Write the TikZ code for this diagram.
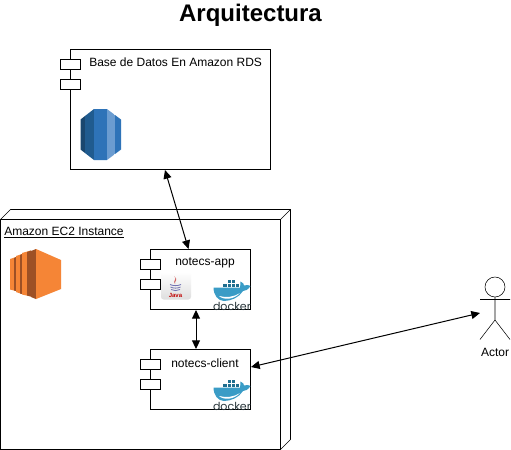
\documentclass[tikz,border=0pt]{standalone}
\usepackage{fontspec}
\setmainfont{Liberation Sans}
\newfontfamily\dockerfont{Poppins}
\usetikzlibrary{arrows.meta}
\definecolor{awsorange}{HTML}{F58536}
\definecolor{awsdark}{HTML}{9D5025}
\definecolor{rdsa}{HTML}{1A476F}
\definecolor{rdsb}{HTML}{205B8F}
\definecolor{rdsc}{HTML}{2E73B8}
\definecolor{rdsd}{HTML}{6B9CD0}
\definecolor{whale}{HTML}{3A9CC6}
\definecolor{whaledark}{HTML}{1F6E8F}
\definecolor{dockertext}{HTML}{2A373C}
\tikzset{
  x=0.75pt,y=-0.75pt,
  line width=0.75pt,
  comp/.style={draw=black,fill=white,minimum width=#1,anchor=north west,inner sep=0pt,outer sep=0pt},
  port/.style={draw=black,fill=white,rectangle,minimum width=15pt,minimum height=7.5pt,inner sep=0pt,outer sep=0pt,anchor=north west},
  lbl/.style={font=\fontsize{9pt}{11pt}\selectfont,inner sep=0pt,text=black},
  dock/.style={font=\dockerfont\fontsize{8.3pt}{9pt}\selectfont,text=dockertext,inner sep=0pt,anchor=base},
  conn/.style={draw=black,line width=0.75pt,{Triangle[length=6.5pt,width=6pt]}-{Triangle[length=6.5pt,width=6pt]}},
}
\newcommand{\dockericon}[2]{%
  \begin{scope}[shift={(#1,#2)}]
    \foreach \cx/\cy in {222.5/283.5,226.7/283.5,230.9/283.5,235.1/283.5,226.7/279.5,230.9/279.5}
      \fill[whaledark,draw=white,line width=0.15pt] (\cx,\cy) rectangle ++(4.1,3.9);
    \fill[whale] (213.5,287.5) -- (240,287.5) .. controls (240.5,285) and (240.5,283) .. (240.5,281.5)
      .. controls (243,282.5) and (244,284) .. (244,285.5)
      .. controls (246.5,284.5) and (249,285) .. (250.5,286)
      .. controls (248,290) and (245,291) .. (243,291)
      .. controls (239,297.5) and (231,301) .. (224,301)
      .. controls (218,301) and (213.5,295) .. (213.5,287.5) -- cycle;
    \fill[white] (219,296) .. controls (226,298) and (234,297) .. (240,293)
      .. controls (234,299.5) and (224,300.5) .. (219,296) -- cycle;
  \end{scope}}
\begin{document}
\begin{tikzpicture}
\useasboundingbox (0,0) rectangle (511,450);
\fill[white] (0,0) rectangle (511,450);

\node[font=\bfseries\fontsize{18pt}{22pt}\selectfont,inner sep=0pt] (title) at (250.5,15) {Arquitectura};

% EC2 node (3D box)
\draw[fill=white,line join=miter] (0.5,219.5) -- (10.5,209.5) -- (290.5,209.5) -- (290.5,439.5) -- (280.5,449.5) -- (0.5,449.5) -- cycle;
\draw (0.5,219.5) -- (280.5,219.5) -- (290.5,209.5) (280.5,219.5) -- (280.5,449.5);
\node[lbl,anchor=base west] (ec2label) at (4,235) {\underline{Amazon EC2 Instance}};

% EC2 icon
\begin{scope}
  \fill[awsorange] (10,259) -- (16,257) -- (16,291) -- (10,289.5) -- cycle;
  \fill[awsdark] (14,258) -- (16,257) -- (16,291) -- (14,290.5) -- cycle;
  \fill[awsorange] (16,256) -- (22,254) -- (22,294) -- (16,292) -- cycle;
  \fill[awsdark] (20,255) -- (22,254) -- (22,294) -- (20,293.5) -- cycle;
  \fill[awsorange] (22,253) -- (31,250.5) -- (31,296.5) -- (22,294.5) -- cycle;
  \fill[awsdark] (27,252) -- (31,250.5) -- (31,296.5) -- (27,295.5) -- cycle;
  \fill[awsdark] (31,251) -- (36,249) -- (36,299) -- (31,297) -- cycle;
  \fill[awsorange] (36,249) -- (61,260) -- (61,289) -- (36,299) -- cycle;
\end{scope}

% RDS component
\node[comp=150pt,minimum height=90pt] (rds) at (70.5,49.5) {};
\node[port] (rdsp1) at (60.5,59.5) {};
\node[port] (rdsp2) at (60.5,79.5) {};
\node[lbl,anchor=base west] (rdslabel) at (89,66) {Base de Datos En Amazon RDS};
\begin{scope}
  \clip (80.5,119.5) -- (94,109) -- (107,109) -- (121,119.5) -- (121,149.5) -- (107,160) -- (94,160) -- (80.5,149.5) -- cycle;
  \fill[rdsa] (80,105) rectangle (85,165);
  \fill[rdsb] (85,105) rectangle (94,165);
  \fill[rdsc] (94,105) rectangle (107,165);
  \fill[rdsd] (107,105) rectangle (115,165);
  \fill[rdsc] (115,105) rectangle (122,165);
\end{scope}

% notecs-app
\node[comp=75pt,minimum height=45pt] (app) at (150.5,249.5) {};
\node[port] (appp1) at (140.5,259.5) {};
\node[port] (appp2) at (140.5,279.5) {};
\node[lbl] (applabel) at (205,263) {notecs-app};
% java icon
\shade[top color=white,bottom color=black!13,rounded corners=2pt] (161,272) rectangle (191,299.5);
\fill[red!70!black!60] (174,276) .. controls (178,279) and (172,281) .. (175,284) .. controls (174,281) and (179,280) .. (174,276) -- cycle;
\draw[blue!45!black!55,line width=0.6pt] (170,284.5) .. controls (173,286) and (178,286) .. (181,284.5)
  (170.5,287) .. controls (173,288.5) and (178,288.5) .. (180.5,287)
  (171,289.5) .. controls (174,291) and (177,291) .. (180,289.5);
\node[font=\bfseries\fontsize{4.5pt}{5pt}\selectfont,text=red!75!black,inner sep=0pt] (javatext) at (175.5,295) {Java};
\dockericon{0}{0}
\node[dock] (docker1) at (232,310) {docker};

% notecs-client
\node[comp=75pt,minimum height=45pt] (client) at (150.5,349.5) {};
\node[port] (clientp1) at (140.5,359.5) {};
\node[port] (clientp2) at (140.5,379.5) {};
\node[lbl] (clientlabel) at (205,363) {notecs-client};
\dockericon{0}{100}
\node[dock] (docker2) at (232,410) {docker};

% Actor
\node[draw=black,circle,minimum size=15pt,inner sep=0pt,outer sep=0pt] (head) at (495,287) {};
\coordinate (hip) at (495,320);
\coordinate (armL) at (480,299.5);
\coordinate (armR) at (510,299.5);
\coordinate (footL) at (480,339.5);
\coordinate (footR) at (510,339.5);
\draw (head.south) -- (hip) (armL) -- (armR) (footL) -- (hip) -- (footR);
\node[lbl] (actorlabel) at (495,352) {Actor};

% Connectors
\coordinate (rdsport) at (165,170);
\coordinate (appporttop) at (188.5,249);
\coordinate (appportbot) at (196,310);
\coordinate (clientporttop) at (196,349);
\coordinate (clientportright) at (251,367);
\coordinate (actorport) at (480,313);
\draw[conn] (rdsport) -- (appporttop);
\draw[conn] (appportbot) -- (clientporttop);
\draw[conn] (clientportright) -- (actorport);
\end{tikzpicture}
\end{document}
